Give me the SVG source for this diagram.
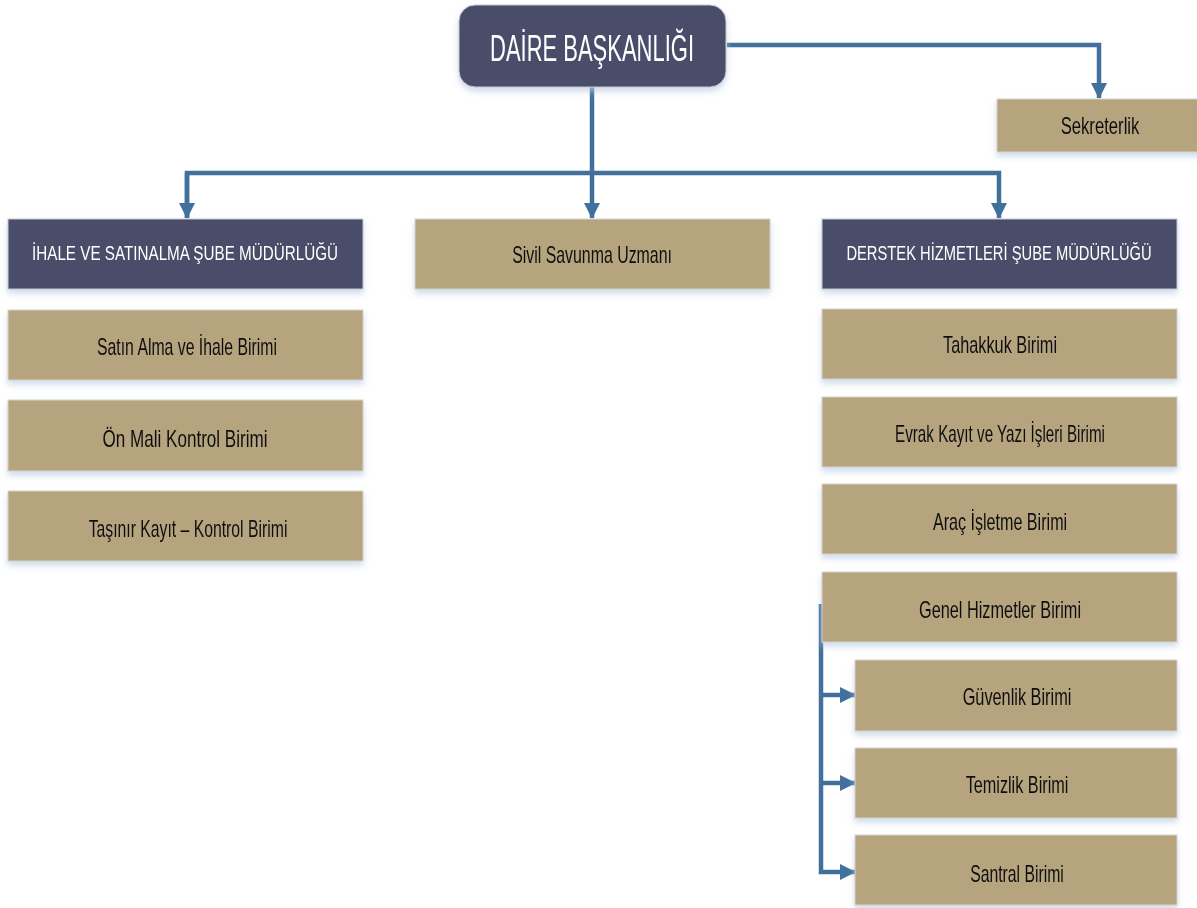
<svg xmlns="http://www.w3.org/2000/svg" width="1197" height="908" viewBox="0 0 1197 908">
<style>
.dark{fill:#4a4d69;stroke:#c9c9cf;stroke-width:1}
.tan{fill:#b6a47e;stroke:#d6d3cb;stroke-width:1}
.box{filter:url(#sh)}
.tw{font-family:"Liberation Sans",Arial,sans-serif;fill:#ffffff;text-anchor:middle}
.tb{font-family:"Liberation Sans",Arial,sans-serif;fill:#111111;text-anchor:middle;font-size:24px}
.hd{font-size:20px}
.conn{fill:none;stroke:#41709c;stroke-width:4.5}
</style>
<defs>
<filter id="sh" x="-5%" y="-10%" width="110%" height="130%">
<feDropShadow dx="0" dy="4" stdDeviation="3" flood-color="#b9cde4" flood-opacity="0.7"/>
</filter>
<marker id="ar" viewBox="0 0 16 16" markerWidth="16" markerHeight="16" refX="15" refY="8" orient="auto" markerUnits="userSpaceOnUse">
<path d="M0,0 L16,8 L0,16 Z" fill="#41709c"/>
</marker>
</defs>
<rect width="1197" height="908" fill="#ffffff"/>

<g id="connectors">
<path class="conn" d="M727,45 H1099 V98" marker-end="url(#ar)"/>
<path class="conn" d="M592,87 V218" marker-end="url(#ar)"/>
<path class="conn" d="M187,218 V173 H999 V218" marker-end="url(#ar)"/>
<path class="conn" d="M187,173 V218" marker-end="url(#ar)"/>
<path class="conn" d="M821,604 V872 H855" marker-end="url(#ar)"/>
<path class="conn" d="M821,695 H855" marker-end="url(#ar)"/>
<path class="conn" d="M821,783 H855" marker-end="url(#ar)"/>
</g>

<g id="daire" class="box">
<rect class="dark" x="459" y="5" width="267" height="82" rx="16"/>
<text class="tw" transform="translate(592,61) scale(0.75,1)" font-size="36" textLength="272" lengthAdjust="spacingAndGlyphs">DAİRE BAŞKANLIĞI</text>
</g>
<g id="sekreterlik" class="box">
<rect class="tan" x="997" y="99" width="210" height="53"/>
<text class="tb" transform="translate(1100,134) scale(0.75,1)" textLength="105" lengthAdjust="spacingAndGlyphs">Sekreterlik</text>
</g>
<g id="ihale" class="box">
<rect class="dark" x="8" y="219" width="355" height="70"/>
<text class="tw hd" transform="translate(185,260) scale(0.75,1)" textLength="408" lengthAdjust="spacingAndGlyphs">İHALE VE SATINALMA ŞUBE MÜDÜRLÜĞÜ</text>
</g>
<g id="sivil" class="box">
<rect class="tan" x="415" y="219" width="355" height="70"/>
<text class="tb" transform="translate(592,263) scale(0.75,1)" textLength="213" lengthAdjust="spacingAndGlyphs">Sivil Savunma Uzmanı</text>
</g>
<g id="derstek" class="box">
<rect class="dark" x="822" y="219" width="355" height="70"/>
<text class="tw hd" transform="translate(999,260) scale(0.75,1)" textLength="407" lengthAdjust="spacingAndGlyphs">DERSTEK HİZMETLERİ ŞUBE MÜDÜRLÜĞÜ</text>
</g>

<g id="satinalma" class="box">
<rect class="tan" x="8" y="310" width="355" height="70"/>
<text class="tb" transform="translate(187,355) scale(0.75,1)" textLength="240" lengthAdjust="spacingAndGlyphs">Satın Alma ve İhale Birimi</text>
</g>
<g id="onmali" class="box">
<rect class="tan" x="8" y="400" width="355" height="71"/>
<text class="tb" transform="translate(185,447) scale(0.75,1)" textLength="220" lengthAdjust="spacingAndGlyphs">Ön Mali  Kontrol Birimi</text>
</g>
<g id="tasinir" class="box">
<rect class="tan" x="8" y="491" width="355" height="70"/>
<text class="tb" transform="translate(188,537) scale(0.75,1)" textLength="265" lengthAdjust="spacingAndGlyphs">Taşınır Kayıt – Kontrol Birimi</text>
</g>

<g id="tahakkuk" class="box">
<rect class="tan" x="822" y="309" width="355" height="70"/>
<text class="tb" transform="translate(1000,353) scale(0.75,1)" textLength="152" lengthAdjust="spacingAndGlyphs">Tahakkuk Birimi</text>
</g>
<g id="evrak" class="box">
<rect class="tan" x="822" y="397" width="355" height="70"/>
<text class="tb" transform="translate(1000,442) scale(0.75,1)" textLength="280" lengthAdjust="spacingAndGlyphs">Evrak Kayıt ve Yazı İşleri Birimi</text>
</g>
<g id="arac" class="box">
<rect class="tan" x="822" y="484" width="355" height="70"/>
<text class="tb" transform="translate(1000,530) scale(0.75,1)" textLength="179" lengthAdjust="spacingAndGlyphs">Araç İşletme Birimi</text>
</g>
<g id="genel" class="box">
<rect class="tan" x="822" y="572" width="355" height="70"/>
<text class="tb" transform="translate(1000,618) scale(0.75,1)" textLength="216" lengthAdjust="spacingAndGlyphs">Genel Hizmetler Birimi</text>
</g>
<g id="guvenlik" class="box">
<rect class="tan" x="855" y="660" width="322" height="71"/>
<text class="tb" transform="translate(1017,705) scale(0.75,1)" textLength="145" lengthAdjust="spacingAndGlyphs">Güvenlik Birimi</text>
</g>
<g id="temizlik" class="box">
<rect class="tan" x="855" y="748" width="322" height="70"/>
<text class="tb" transform="translate(1017,793) scale(0.75,1)" textLength="137" lengthAdjust="spacingAndGlyphs">Temizlik Birimi</text>
</g>
<g id="santral" class="box">
<rect class="tan" x="855" y="835" width="322" height="70"/>
<text class="tb" transform="translate(1017,882) scale(0.75,1)" textLength="125" lengthAdjust="spacingAndGlyphs">Santral Birimi</text>
</g>
</svg>
